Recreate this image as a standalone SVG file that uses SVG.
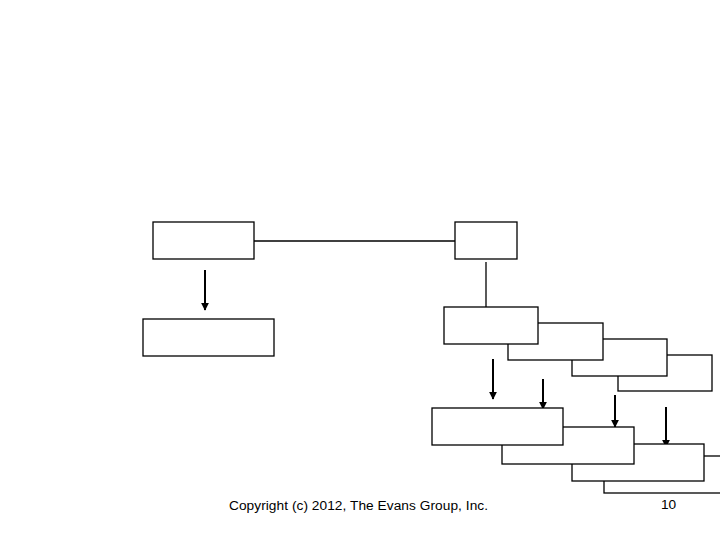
<svg xmlns="http://www.w3.org/2000/svg" width="720" height="540" viewBox="0 0 720 540">
<defs>
<style>
.box{fill:#fff;stroke:#000;stroke-width:1.3}
.ln{fill:none;stroke:#000;stroke-width:1.3}
.ar{fill:none;stroke:#000;stroke-width:2;marker-end:url(#ah)}
.t{font-family:"Liberation Sans",Arial,sans-serif;font-size:13.7px;fill:#000}
</style>
<marker id="ah" viewBox="0 0 10 10" refX="9" refY="5" markerWidth="4" markerHeight="4" orient="auto" markerUnits="strokeWidth">
<path d="M0,0 L10,5 L0,10 z" fill="#000"/>
</marker>
</defs>
<rect width="720" height="540" fill="#fff"/>
<g id="connectors">
<line class="ln" x1="254" y1="241" x2="455" y2="241"/>
<line class="ln" x1="486" y1="262" x2="486" y2="307"/>
<line class="ar" x1="205" y1="270" x2="205" y2="310"/>
<line class="ar" x1="493" y1="359" x2="493" y2="399"/>
<line class="ar" x1="543" y1="379" x2="543" y2="409"/>
<line class="ar" x1="615" y1="395" x2="615" y2="427"/>
<line class="ar" x1="666" y1="407" x2="666" y2="447"/>
</g>
<g id="boxA"><rect class="box" x="153" y="222" width="101" height="37"/></g>
<g id="boxB"><rect class="box" x="455" y="222" width="62" height="37"/></g>
<g id="boxC"><rect class="box" x="143" y="319" width="131" height="37"/></g>
<g id="boxD4"><rect class="box" x="618" y="355" width="94" height="36"/></g>
<g id="boxD3"><rect class="box" x="572" y="339" width="95" height="37"/></g>
<g id="boxD2"><rect class="box" x="508" y="323" width="95" height="37"/></g>
<g id="boxD1"><rect class="box" x="444" y="307" width="94" height="37"/></g>
<g id="boxE4"><rect class="box" x="604" y="456" width="170" height="37"/></g>
<g id="boxE3"><rect class="box" x="572" y="444" width="132" height="37"/></g>
<g id="boxE2"><rect class="box" x="502" y="427" width="132" height="37"/></g>
<g id="boxE1"><rect class="box" x="432" y="408" width="131" height="37"/></g>
<text class="t" x="229" y="510" textLength="259" lengthAdjust="spacing">Copyright (c) 2012, The Evans Group, Inc.</text>
<text class="t" x="661" y="509">10</text>
</svg>
